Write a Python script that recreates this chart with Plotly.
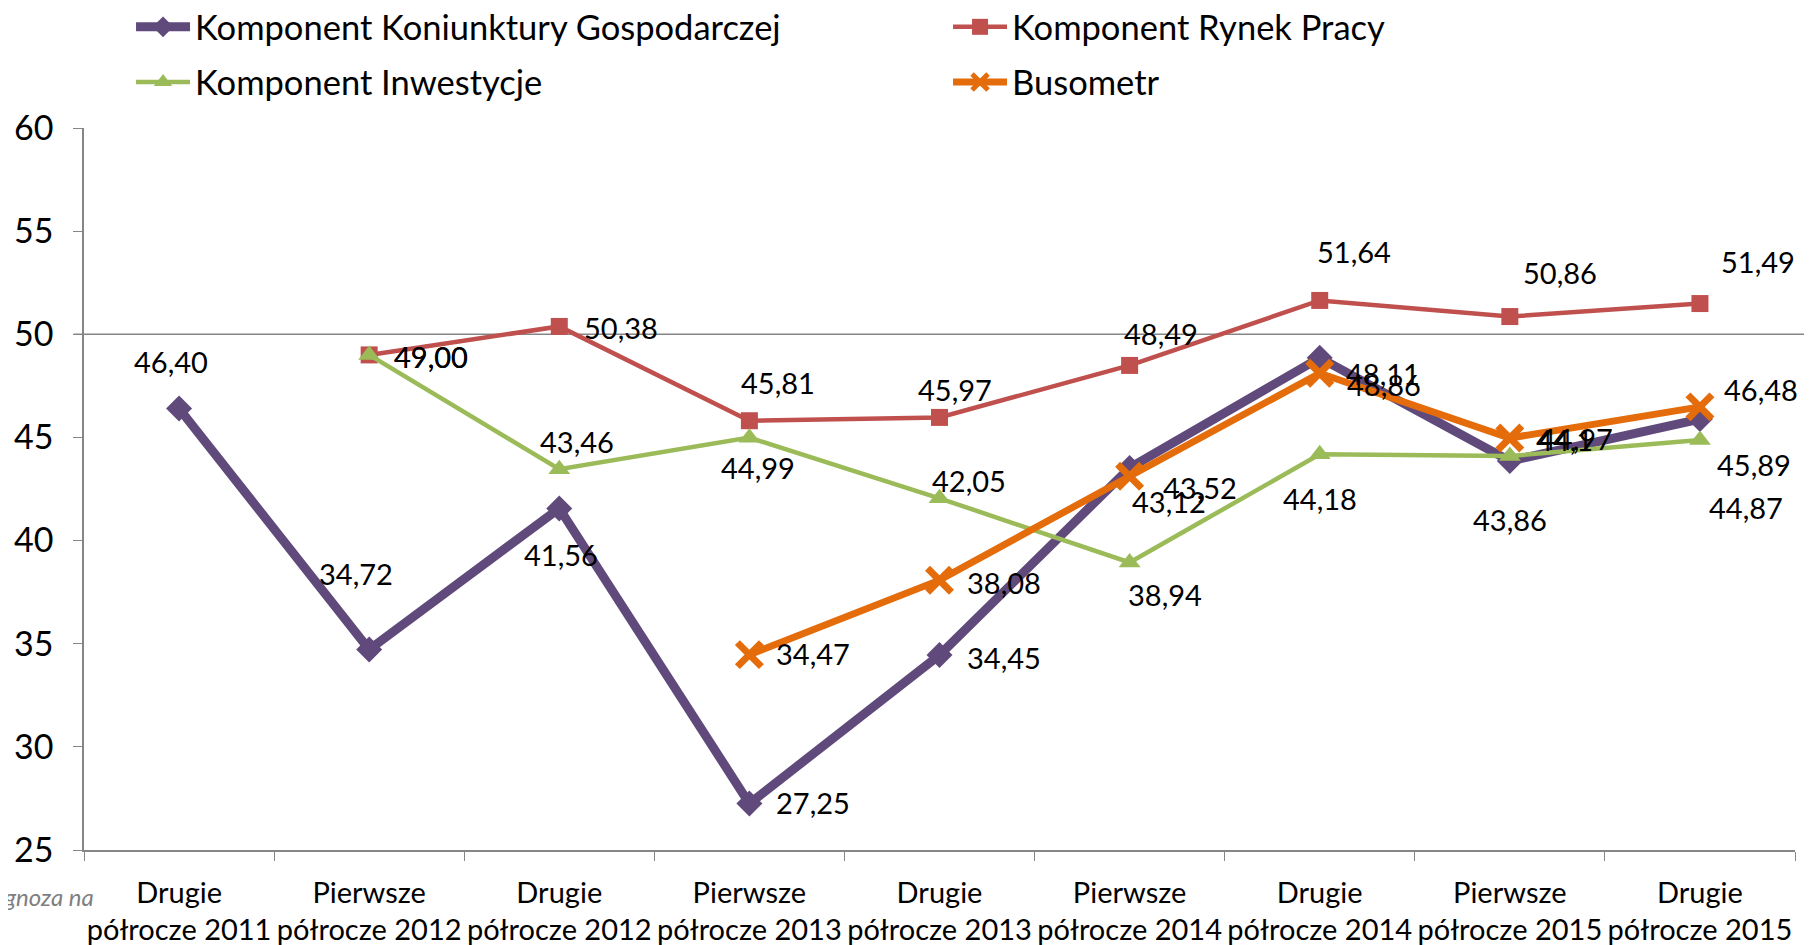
import plotly.graph_objects as go

categories = [
    "Drugie<br>półrocze 2011", "Pierwsze<br>półrocze 2012", "Drugie<br>półrocze 2012",
    "Pierwsze<br>półrocze 2013", "Drugie<br>półrocze 2013", "Pierwsze<br>półrocze 2014",
    "Drugie<br>półrocze 2014", "Pierwsze<br>półrocze 2015", "Drugie<br>półrocze 2015",
]

koniunktura = [46.40, 34.72, 41.56, 27.25, 34.45, 43.52, 48.86, 43.86, 45.89]
rynek_pracy = [None, 49.00, 50.38, 45.81, 45.97, 48.49, 51.64, 50.86, 51.49]
inwestycje = [None, 49.00, 43.46, 44.99, 42.05, 38.94, 44.18, 44.10, 44.87]
busometr = [None, None, None, 34.47, 38.08, 43.12, 48.11, 44.97, 46.48]

# label text, as printed in the original
lab_inwest = ["", "49,00", "43,46", "44,99", "42,05", "38,94", "44,18", "44,1", "44,87"]

# label offsets (px) from each point, as placed in the original
off_koniunktura = [(-8, 47), (-13, 76), (2, -46), (64, 1), (64, -2), (70, -20), (64, -27), (0, -59), (54, -45)]
off_rynek = [None, (62, -2), (62, -1), (29, 38), (15, 28), (31, 32), (34, 49), (50, 44), (58, 42)]
off_inwest = [None, (62, -2), (18, 28), (9, -30), (29, 18), (35, -32), (0, -44), (55, 16), (46, -67)]
off_busometr = [None, None, None, (64, 1), (64, -2), (39, -25), (63, 0), (66, 0), (61, 17)]

FONT = "Lato"

series = [
    ("Komponent Koniunktury Gospodarczej", koniunktura, off_koniunktura, None, "#604A7B", 9, "diamond", 20, "legend"),
    ("Komponent Rynek Pracy", rynek_pracy, off_rynek, None, "#C0504D", 4.5, "square", 17, "legend"),
    ("Komponent Inwestycje", inwestycje, off_inwest, lab_inwest, "#9BBB59", 4.5, "triangle-up", 19, "legend2"),
    ("Busometr", busometr, off_busometr, None, "#E46C0A", 7, "x-thin-open", 24, "legend2"),
]

fig = go.Figure()
annotations = []
for name, vals, offs, labs, color, lw, sym, msize, leg in series:
    marker = dict(symbol=sym, size=msize, color=color)
    if sym == "x-thin-open":
        marker["line"] = dict(width=7, color=color)
    fig.add_trace(go.Scatter(
        x=categories, y=vals, name=name, mode="lines+markers",
        line=dict(color=color, width=lw), marker=marker,
        legend=leg, connectgaps=False,
    ))
    for i, (c, v, o) in enumerate(zip(categories, vals, offs)):
        if v is None:
            continue
        txt = labs[i] if labs else f"{v:.2f}".replace(".", ",")
        annotations.append(dict(
            x=c, y=v, xref="x", yref="y", text=txt,
            showarrow=False, xshift=o[0], yshift=o[1],
            font=dict(family=FONT, size=29, color="black"),
        ))

annotations.append(dict(
    x=0, y=0, xref="paper", yref="paper", text="Prognoza na", showarrow=False,
    xanchor="right", yanchor="middle", xshift=12, yshift=-46,
    font=dict(family=FONT, size=24, color="#7F7F7F", style="italic"),
))

fig.update_layout(
    width=1812, height=945,
    margin=dict(l=76, r=25, t=120, b=103),
    paper_bgcolor="white", plot_bgcolor="white",
    font=dict(family=FONT, size=29, color="black"),
    showlegend=True,
    legend=dict(orientation="h", xref="container", yref="container",
                x=0.0679, y=0.98, xanchor="left", yanchor="middle",
                entrywidth=748, itemwidth=54, font=dict(family=FONT, size=34.5)),
    legend2=dict(orientation="h", xref="container", yref="container",
                 x=0.0679, y=0.9217, xanchor="left", yanchor="middle",
                 entrywidth=748, itemwidth=54, font=dict(family=FONT, size=34.5)),
    annotations=annotations,
    shapes=[dict(type="line", xref="paper", yref="y", x0=-0.006, x1=1.01, y0=50, y1=50,
                 line=dict(color="#868686", width=1.5), layer="below")],
)

fig.update_xaxes(
    automargin=False, tickangle=0,
    showline=True, linecolor="#868686", linewidth=1.5, showgrid=False,
    ticks="outside", tickson="boundaries", ticklen=9, tickcolor="#868686",
    tickfont=dict(family=FONT, size=29), ticklabelstandoff=16, range=[-0.5, 8.5],
)
fig.update_yaxes(
    automargin=False,
    range=[25, 60], dtick=5, showline=True, linecolor="#868686", linewidth=1.5,
    showgrid=False, zeroline=False, ticks="outside", ticklen=9, tickcolor="#868686",
    tickfont=dict(family=FONT, size=34), ticklabelstandoff=13,
)

fig.write_html("out.html")
